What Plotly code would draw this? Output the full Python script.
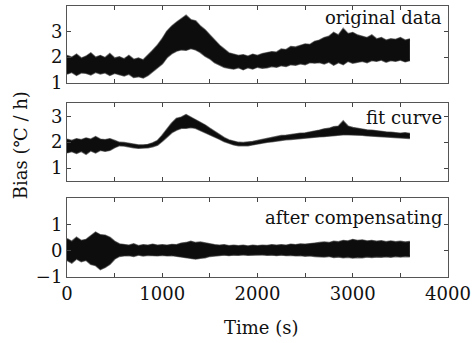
import plotly.graph_objects as go
from plotly.subplots import make_subplots

# time grid (s), sampled every 50 s, 0..3600
time_s = list(range(0, 3601, 50))

# envelopes (upper / lower edges of the dense noisy trace)
orig_upper = [2.05, 1.98, 2.10, 1.95, 2.02, 2.15, 1.98, 2.05, 1.97, 2.12,
              1.95, 2.00, 1.92, 2.05, 1.90, 1.95, 1.88, 2.05, 2.25, 2.45,
              2.70, 3.00, 3.20, 3.35, 3.50, 3.62, 3.45, 3.40, 3.20, 3.05,
              2.85, 2.65, 2.45, 2.30, 2.15, 2.10, 2.05, 2.08, 2.02, 2.10,
              2.05, 2.12, 2.15, 2.20, 2.18, 2.30, 2.28, 2.40, 2.38, 2.45,
              2.50, 2.48, 2.60, 2.65, 2.75, 2.80, 2.95, 2.85, 3.10, 2.90,
              2.95, 2.85, 2.80, 2.75, 2.85, 2.70, 2.75, 2.65, 2.70, 2.68,
              2.75, 2.65, 2.70]
orig_lower = [1.35, 1.42, 1.30, 1.40, 1.38, 1.32, 1.42, 1.36, 1.40, 1.30,
              1.38, 1.33, 1.28, 1.35, 1.22, 1.25, 1.20, 1.30, 1.45, 1.60,
              1.75, 2.00, 2.15, 2.25, 2.30, 2.28, 2.35, 2.30, 2.20, 2.05,
              1.95, 1.80, 1.70, 1.62, 1.58, 1.55, 1.60, 1.52, 1.60, 1.55,
              1.62, 1.58, 1.60, 1.65, 1.62, 1.68, 1.65, 1.72, 1.70, 1.75,
              1.72, 1.80, 1.78, 1.80, 1.75, 1.82, 1.70, 1.80, 1.72, 1.85,
              1.78, 1.82, 1.85, 1.80, 1.88, 1.85, 1.90, 1.82, 1.88, 1.85,
              1.90, 1.83, 1.88]

fit_upper = [2.10, 2.05, 2.12, 2.08, 2.15, 2.10, 2.20, 2.10, 2.08, 2.12,
             2.05, 1.98, 1.97, 1.93, 1.90, 1.88, 1.88, 1.90, 1.96, 2.05,
             2.25, 2.50, 2.72, 2.90, 2.95, 3.05, 2.95, 2.88, 2.78, 2.65,
             2.52, 2.40, 2.27, 2.16, 2.07, 2.01, 1.98, 1.97, 1.98, 2.01,
             2.05, 2.09, 2.13, 2.17, 2.20, 2.24, 2.25, 2.28, 2.30, 2.33,
             2.34, 2.37, 2.40, 2.45, 2.50, 2.52, 2.58, 2.60, 2.80, 2.60,
             2.55, 2.52, 2.48, 2.46, 2.45, 2.42, 2.41, 2.38, 2.37, 2.36,
             2.33, 2.35, 2.32]
fit_lower = [1.60, 1.65, 1.58, 1.66, 1.55, 1.68, 1.60, 1.70, 1.66, 1.70,
             1.80, 1.88, 1.87, 1.83, 1.80, 1.78, 1.78, 1.80, 1.84, 1.90,
             2.05, 2.20, 2.38, 2.48, 2.55, 2.55, 2.58, 2.55, 2.47, 2.40,
             2.32, 2.24, 2.13, 2.04, 1.97, 1.91, 1.88, 1.87, 1.88, 1.91,
             1.95, 1.97, 2.01, 2.03, 2.06, 2.08, 2.11, 2.12, 2.14, 2.15,
             2.18, 2.19, 2.20, 2.22, 2.23, 2.25, 2.27, 2.30, 2.30, 2.30,
             2.30, 2.28, 2.28, 2.26, 2.25, 2.24, 2.23, 2.22, 2.20, 2.18,
             2.17, 2.17, 2.16]

comp_upper = [0.45, 0.35, 0.50, 0.38, 0.42, 0.55, 0.70, 0.60, 0.58, 0.50,
              0.35, 0.25, 0.22, 0.20, 0.25, 0.18, 0.22, 0.20, 0.24, 0.20,
              0.22, 0.20, 0.23, 0.22, 0.28, 0.30, 0.35, 0.30, 0.32, 0.28,
              0.25, 0.22, 0.20, 0.22, 0.18, 0.20, 0.18, 0.20, 0.17, 0.20,
              0.18, 0.20, 0.19, 0.22, 0.20, 0.22, 0.20, 0.24, 0.22, 0.25,
              0.24, 0.27, 0.28, 0.30, 0.32, 0.30, 0.35, 0.33, 0.38, 0.36,
              0.42, 0.38, 0.40, 0.36, 0.38, 0.35, 0.37, 0.33, 0.36, 0.33,
              0.35, 0.32, 0.34]
comp_lower = [-0.35, -0.45, -0.30, -0.40, -0.35, -0.50, -0.55, -0.70, -0.62, -0.50,
              -0.30, -0.20, -0.18, -0.17, -0.20, -0.15, -0.18, -0.16, -0.17, -0.18,
              -0.16, -0.18, -0.17, -0.20, -0.22, -0.26, -0.28, -0.30, -0.27, -0.25,
              -0.20, -0.18, -0.17, -0.15, -0.17, -0.15, -0.16, -0.14, -0.16, -0.15,
              -0.16, -0.14, -0.16, -0.15, -0.17, -0.15, -0.17, -0.16, -0.18, -0.17,
              -0.19, -0.18, -0.20, -0.21, -0.22, -0.20, -0.24, -0.22, -0.25, -0.23,
              -0.26, -0.24, -0.25, -0.22, -0.24, -0.22, -0.23, -0.21, -0.23, -0.20,
              -0.22, -0.20, -0.21]

panel_labels = ["original data", "fit curve", "after compensating"]
y_ranges = [[1, 4], [0.5, 3.5], [-1, 2]]
y_ticks = [[1, 2, 3], [1, 2, 3], [-1, 0, 1]]
x_tickvals = [0, 500, 1000, 1500, 2000, 2500, 3000, 3500, 4000]
x_ticktext = ["0", "", "1000", "", "2000", "", "3000", "", "4000"]

FONT = "DejaVu Serif"
FS = 18

fig = make_subplots(rows=3, cols=1, shared_xaxes=False, vertical_spacing=0.05)

series = [(orig_upper, orig_lower), (fit_upper, fit_lower), (comp_upper, comp_lower)]
for i, (up, lo) in enumerate(series):
    assert len(up) == len(time_s) and len(lo) == len(time_s)
    r = i + 1
    # soft grey halo for the noisy fringe
    fig.add_trace(go.Scatter(x=time_s, y=lo, mode="lines",
                             line=dict(color="#777", width=2.2),
                             showlegend=False, hoverinfo="skip"), row=r, col=1)
    fig.add_trace(go.Scatter(x=time_s, y=up, mode="lines",
                             line=dict(color="#777", width=2.2),
                             showlegend=False, hoverinfo="skip"), row=r, col=1)
    fig.add_trace(go.Scatter(x=time_s, y=lo, mode="lines",
                             line=dict(color="#111", width=0.8),
                             showlegend=False, hoverinfo="skip"), row=r, col=1)
    fig.add_trace(go.Scatter(x=time_s, y=up, mode="lines", fill="tonexty",
                             fillcolor="#0d0d0d",
                             line=dict(color="#111", width=0.8),
                             showlegend=False, hoverinfo="skip"), row=r, col=1)

domains = [[0.717, 1.0], [0.354, 0.641], [0.0, 0.290]]
for i in range(3):
    r = i + 1
    fig.update_xaxes(row=r, col=1, range=[0, 4000], domain=[0, 1],
                     tickvals=x_tickvals, ticktext=x_ticktext,
                     showticklabels=(r == 3), automargin=False,
                     ticks="inside", ticklen=4, tickcolor="#444",
                     showline=True, linecolor="#555", linewidth=1, mirror="ticks",
                     showgrid=False, zeroline=False,
                     tickfont=dict(family=FONT, size=FS, color="#111"))
    fig.update_yaxes(row=r, col=1, range=y_ranges[i], domain=domains[i],
                     tickvals=y_ticks[i], automargin=False,
                     ticks="inside", ticklen=4, tickcolor="#444",
                     showline=True, linecolor="#555", linewidth=1, mirror="ticks",
                     showgrid=False, zeroline=False,
                     tickfont=dict(family=FONT, size=FS, color="#111"))

label_y = [0.959, 0.587, 0.218]
for lab, yy in zip(panel_labels, label_y):
    fig.add_annotation(text=lab, xref="paper", yref="paper", x=0.9895, y=yy,
                       xanchor="right", yanchor="middle", showarrow=False,
                       font=dict(family=FONT, size=FS, color="#111"))

fig.add_annotation(text="Bias (℃ / h)", xref="paper", yref="paper",
                   x=-0.123, y=0.487, textangle=-90, showarrow=False,
                   xanchor="center", yanchor="middle",
                   font=dict(family=FONT, size=FS, color="#111"))
fig.add_annotation(text="Time (s)", xref="paper", yref="paper",
                   x=0.511, y=-0.188, showarrow=False,
                   xanchor="center", yanchor="middle",
                   font=dict(family=FONT, size=FS, color="#111"))

fig.update_layout(width=473, height=343,
                  margin=dict(l=67, r=25, t=6, b=66, autoexpand=False),
                  paper_bgcolor="white", plot_bgcolor="white")

fig.write_html("out.html",
               config={"displayModeBar": False, "staticPlot": True},
               post_script="document.body.style.margin='0';document.body.style.padding='0';")
